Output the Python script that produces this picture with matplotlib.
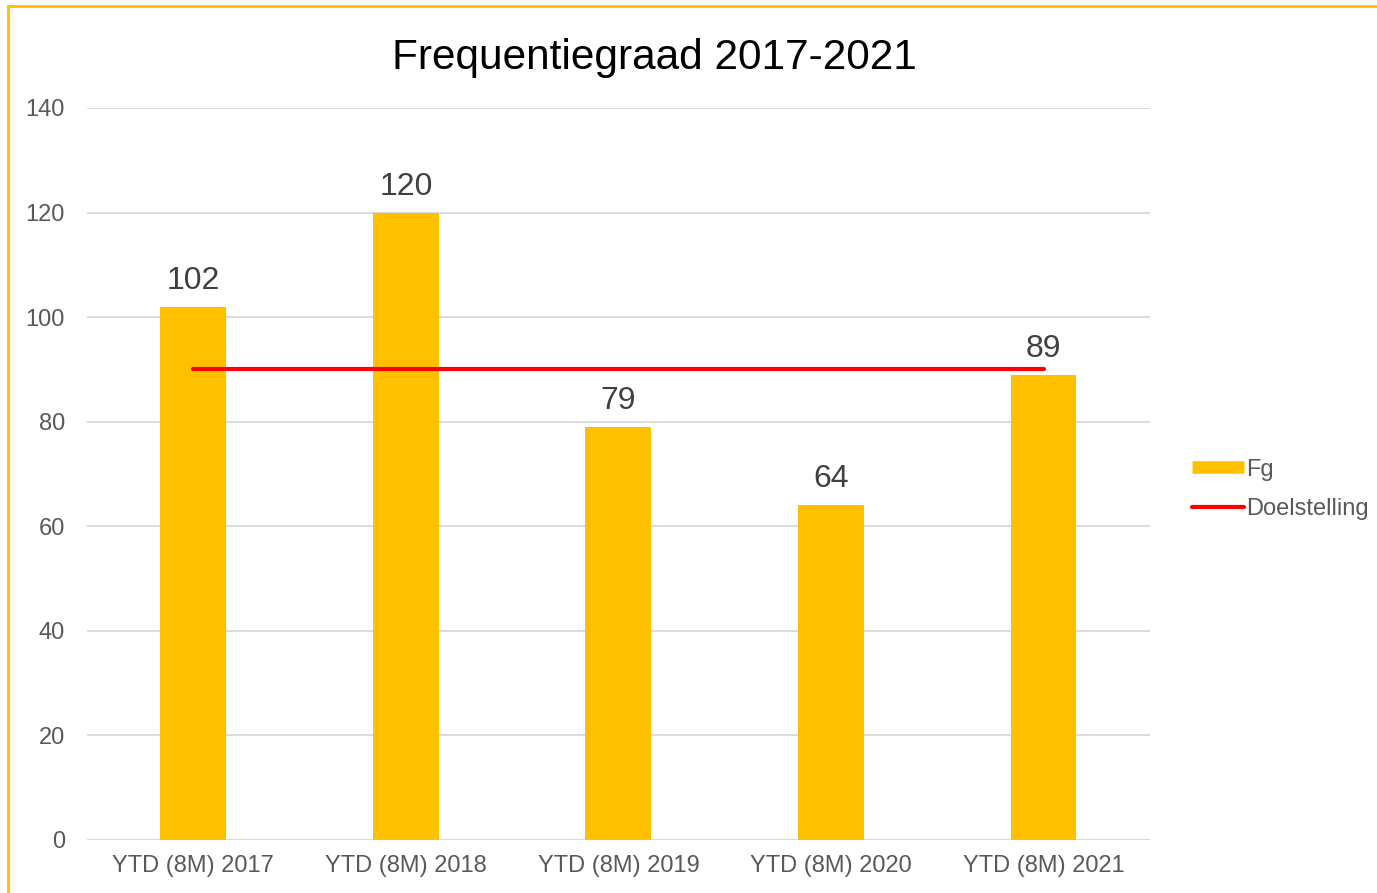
import numpy as np
import matplotlib
matplotlib.use("Agg")
import matplotlib.pyplot as plt
from matplotlib.lines import Line2D

plt.rcParams['font.family'] = ['Liberation Sans', 'DejaVu Sans']

categories = ["YTD (8M) 2017", "YTD (8M) 2018", "YTD (8M) 2019", "YTD (8M) 2020", "YTD (8M) 2021"]
fg = [102, 120, 79, 64, 89]
doel = [90, 90, 90, 90, 90]
yticks = [0, 20, 40, 60, 80, 100, 120, 140]

fig = plt.figure(figsize=(13.77, 8.93), dpi=100)
ax = fig.add_axes([0.0632, 0.0594, 0.7718, 0.8197])

x = np.arange(len(categories))
bars = ax.bar(x, fg, width=0.31, color="#FFC000", zorder=2, label="Fg")
line, = ax.plot(x, doel, color="#FF0000", linewidth=3, solid_capstyle="round", zorder=3, label="Doelstelling")

for xi, v in zip(x, fg):
    ax.text(xi, v + 2.1, str(v), ha="center", va="bottom", fontsize=23, color="#404040")

ax.set_xlim(-0.5, 4.5)
ax.set_ylim(0, 140)
ax.set_yticks(yticks)
ax.set_xticks(x)
ax.set_xticklabels(categories)
ax.tick_params(axis="both", length=0, labelsize=17, colors="#595959")
ax.tick_params(axis="y", pad=16)
ax.tick_params(axis="x", pad=11)
ax.yaxis.grid(True, color="#D9D9D9", linewidth=1.3, zorder=0)
for s in ax.spines.values():
    s.set_visible(False)
ax.axhline(0, color="#D9D9D9", linewidth=1.3, zorder=1)

fig.text(0.475, 0.935, "Frequentiegraad 2017-2021", ha="center", va="center", fontsize=30.5, color="black")

handles = [Line2D([0], [0], color="#FFC000", linewidth=9, solid_capstyle="butt"),
           Line2D([0], [0], color="#FF0000", linewidth=3, solid_capstyle="round")]
fig.legend(handles, ["Fg", "Doelstelling"], loc="center left", bbox_to_anchor=(0.85, 0.452),
           frameon=False, fontsize=17, labelcolor="#595959", handlelength=2.2, handletextpad=0.1,
           labelspacing=0.75)

# yellow frame around chart area
fig.add_artist(Line2D([0.006, 0.006], [0, 0.993], color="#FFC000", linewidth=2, transform=fig.transFigure))
fig.add_artist(Line2D([0.006, 1], [0.993, 0.993], color="#FFC000", linewidth=2, transform=fig.transFigure))

fig.savefig("out.png", dpi=100)
